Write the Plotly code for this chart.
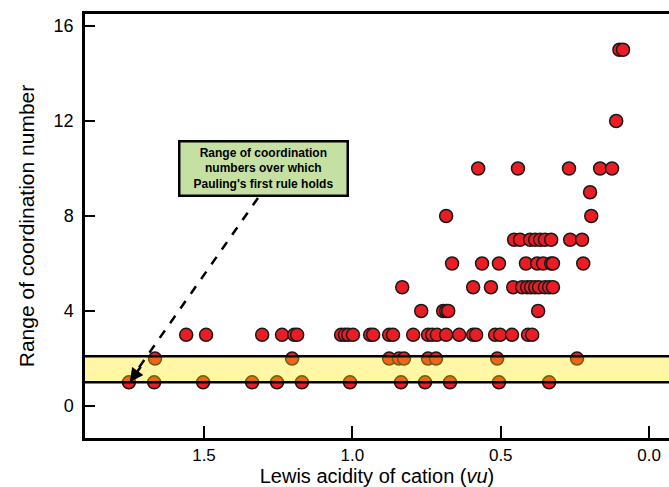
import plotly.graph_objects as go

# Data: (Lewis acidity in vu, range of coordination number)
cn15 = [0.100, 0.088]
cn12 = [0.111]
cn10 = [0.576, 0.442, 0.270, 0.165, 0.125]
cn9 = [0.199]
cn8 = [0.684, 0.195]
cn7 = [0.455, 0.435, 0.401, 0.384, 0.367, 0.351, 0.330, 0.266, 0.226]
cn6 = [0.664, 0.563, 0.506, 0.415, 0.377, 0.357, 0.330, 0.324, 0.222]
cn5 = [0.832, 0.593, 0.533, 0.458, 0.428, 0.411, 0.398, 0.384, 0.371, 0.351, 0.337, 0.324]
cn4 = [0.768, 0.694, 0.684, 0.677, 0.374]
cn3 = [1.560, 1.493, 1.304, 1.237, 1.196, 1.186, 1.038, 1.025, 1.014, 0.998, 0.940,
       0.930, 0.876, 0.863, 0.795, 0.745, 0.731, 0.715, 0.684, 0.640, 0.593, 0.583,
       0.519, 0.502, 0.462, 0.408, 0.394]
cn2 = [1.665, 1.203, 0.876, 0.843, 0.826, 0.745, 0.718, 0.512, 0.243]
cn1 = [1.753, 1.668, 1.503, 1.338, 1.254, 1.170, 1.008, 0.836, 0.755, 0.671, 0.506, 0.337]

groups = {15: cn15, 12: cn12, 10: cn10, 9: cn9, 8: cn8, 7: cn7, 6: cn6,
          5: cn5, 4: cn4, 3: cn3, 2: cn2, 1: cn1}
acidity = []
cn_range = []
for k, xs in groups.items():
    acidity += xs
    cn_range += [k] * len(xs)

band_low, band_high = 1.0, 2.1
x_ticks = [1.5, 1.0, 0.5, 0.0]
x_tick_text = ["1.5", "1.0", "0.5", "0.0"]
y_ticks = [0, 4, 8, 12, 16]
note_text = "Range of coordination<br>numbers over which<br>Pauling's first rule holds"
arrow_tip = (1.75, 1.0)
arrow_tail = (1.318, 8.76)

FONT = "Liberation Sans, Arial, sans-serif"

fig = go.Figure()
fig.add_trace(go.Scatter(
    x=acidity, y=cn_range, mode="markers",
    marker=dict(size=13, color="#EC1C24", line=dict(color="#1a1a1a", width=1.5)),
    showlegend=False, hoverinfo="x+y"))

# yellow band (translucent, above markers)
fig.add_shape(type="rect", xref="paper", yref="y", x0=0, x1=1, y0=band_low, y1=band_high,
              fillcolor="rgba(255,230,0,0.35)", line=dict(width=0), layer="above")
for yv in (band_low, band_high):
    fig.add_shape(type="line", xref="paper", yref="y", x0=0, x1=1, y0=yv, y1=yv,
                  line=dict(color="black", width=2.5), layer="above")

# dashed arrow
fig.add_shape(type="line", xref="x", yref="y",
              x0=arrow_tail[0], y0=arrow_tail[1], x1=arrow_tip[0] - 0.01, y1=arrow_tip[1] + 0.25,
              line=dict(color="black", width=2.5, dash="dash"), layer="above")
fig.add_annotation(x=arrow_tip[0], y=arrow_tip[1], xref="x", yref="y", text="",
                   showarrow=True, arrowhead=2, arrowsize=1.1, arrowwidth=2.5,
                   arrowcolor="black", ax=12, ay=-17)

# note box
fig.add_annotation(x=1.301, y=9.98, xref="x", yref="y", text="<b>" + note_text + "</b>",
                   showarrow=False, font=dict(family=FONT, size=12, color="black"),
                   bgcolor="#C6E0A4", bordercolor="black", borderwidth=2.5,
                   width=164, height=50, align="center")

fig.update_layout(
    width=669, height=487,
    margin=dict(l=85, r=0, t=14, b=49),
    plot_bgcolor="white", paper_bgcolor="white",
    font=dict(family=FONT, color="black"),
    xaxis=dict(range=[1.901, -0.067], tickvals=x_ticks, ticktext=x_tick_text,
               ticks="inside", ticklen=12, tickwidth=2, tickcolor="black",
               showline=True, linecolor="black", linewidth=2.5, mirror=True,
               showgrid=False, zeroline=False, tickfont=dict(size=17),
               title=dict(text="Lewis acidity of cation (<i>vu</i>)", font=dict(size=20), standoff=6)),
    yaxis=dict(range=[-1.347, 16.505], tickvals=y_ticks,
               ticks="inside", ticklen=10, tickwidth=2, tickcolor="black",
               showline=True, linecolor="black", linewidth=2.5, mirror=False,
               showgrid=False, zeroline=False, tickfont=dict(size=18), ticklabelstandoff=5,
               title=dict(text="Range of coordination number", font=dict(size=21), standoff=14)),
)

fig.write_html("out.html")
